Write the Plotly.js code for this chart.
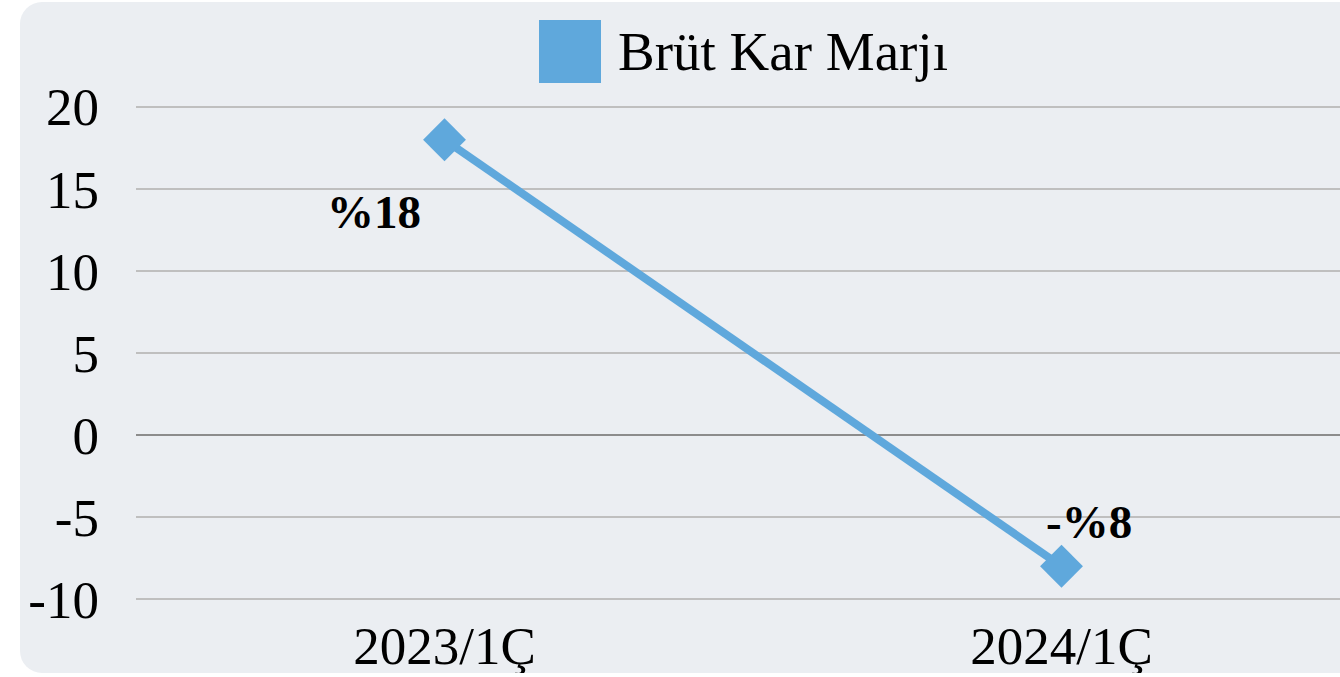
<!DOCTYPE html>
<html><head><meta charset="utf-8">
<script src="https://cdn.plot.ly/plotly-3.0.1.min.js"></script>
<style>
html,body{margin:0;padding:0;background:#fff;overflow:hidden;width:1340px;height:677px;}
#wrap{position:absolute;left:20px;top:2px;width:1360px;height:671px;background:#EBEEF2;border-radius:22px;overflow:hidden;}
#chart{width:1360px;height:671px;}
</style></head>
<body><div id="wrap"><div id="chart"></div></div>
<script>
const categories = ["2023/1Ç", "2024/1Ç"];
const values = [18, -8];
const valueLabels = ["%18", "-%8"];
const seriesName = "Brüt Kar Marjı";
const yTicks = [-10, -5, 0, 5, 10, 15, 20];
const yRange = [-10.3, 20.3];

const W = 1360, H = 671, M = {l:116, r:10, t:100, b:69};
const PW = W - M.l - M.r, PH = H - M.t - M.b;
const px = x => (x - 20 - M.l) / PW;          // page x -> paper
const py = y => (H - M.b + 2 - y) / PH;       // page y -> paper
const color = "#5FA8DC";
const font = "Liberation Serif, Times New Roman, serif";

const trace = {
  x: categories, y: values, type: "scatter", mode: "lines+markers",
  name: seriesName,
  line: {color: color, width: 8},
  marker: {symbol: "diamond", size: 33, color: color},
  cliponaxis: false, showlegend: false
};

const shifts = [[-71, -72], [27, 44]];
const annotations = values.map((v, i) => ({
  x: categories[i], y: v, xref: "x", yref: "y", text: valueLabels[i],
  showarrow: false, xshift: shifts[i][0], yshift: shifts[i][1],
  font: {family: font, size: 47, color: "#000", weight: "bold"}
}));
annotations.push({
  xref: "paper", yref: "paper", x: px(616), y: py(51), xanchor: "left", yanchor: "middle",
  text: seriesName, showarrow: false, font: {family: font, size: 55, color: "#000"}
});

const layout = {
  width: W, height: H, margin: M,
  paper_bgcolor: "rgba(0,0,0,0)", plot_bgcolor: "rgba(0,0,0,0)",
  showlegend: false,
  xaxis: {type: "category", range: [-0.5, 1.5], showgrid: false, zeroline: false, showline: false,
          ticks: "", ticklabelstandoff: 6, tickfont: {family: font, size: 53, color: "#000"}, fixedrange: true},
  yaxis: {range: yRange, tickvals: yTicks, ticktext: yTicks.map(String),
          showgrid: true, gridcolor: "#BFBFBF", gridwidth: 1.3,
          zeroline: true, zerolinecolor: "#8C8C8C", zerolinewidth: 1.3, showline: false,
          ticks: "", ticklabelstandoff: 36, tickfont: {family: font, size: 53, color: "#000"}, fixedrange: true},
  shapes: [{type: "rect", xref: "paper", yref: "paper", x0: px(539), x1: px(601), y0: py(83), y1: py(20),
            fillcolor: color, line: {width: 0}}],
  annotations: annotations
};
Plotly.newPlot("chart", [trace], layout, {displayModeBar: false, staticPlot: true});
</script></body></html>
